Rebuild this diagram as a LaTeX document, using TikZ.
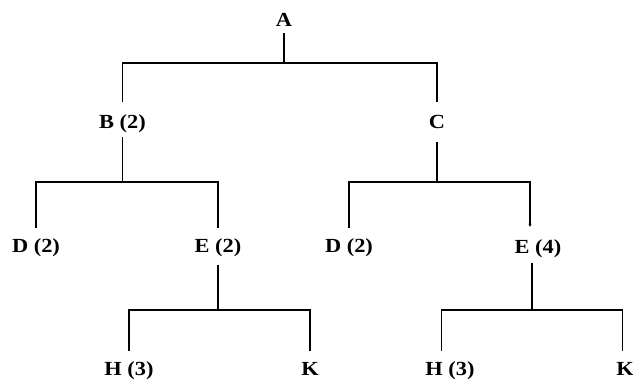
\documentclass[tikz,border=0pt]{standalone}
\usepackage{fontspec}
\setmainfont{Liberation Serif}[FakeStretch=1.12]
\usetikzlibrary{arrows.meta}
\begin{document}
\begin{tikzpicture}[x=1pt,y=-1pt,
  label/.style={anchor=base,inner sep=0pt,text height=13pt,text depth=4pt,
    font=\fontsize{20}{22}\selectfont\bfseries},
  link/.style={draw=black,line width=1.3pt}]
\useasboundingbox[fill=white] (0,0) rectangle (633,380);

% bar levels
\coordinate (lvl1) at (0,63);
\coordinate (lvl2) at (0,182);
\coordinate (lvl3) at (0,310);

% labels
\node[label] (A)  at (284,27)  {A};
\node[label] (B)  at (122.5,128) {B (2)};
\node[label] (C)  at (437,128) {C};
\node[label] (D1) at (36,252)  {D (2)};
\node[label] (E1) at (218,252) {E (2)};
\node[label] (D2) at (349,252) {D (2)};
\node[label] (E2) at (538,253) {E (4)};
\node[label] (H1) at (129,375.5) {H (3)};
\node[label] (K1) at (310,375.5) {K};
\node[label] (H2) at (450,375.5) {H (3)};
\node[label] (K2) at (625,375.5) {K};

% A -> B, C
\draw[link] ([yshift=-2pt]A.south) -- (A.south |- lvl1);
\draw[link] (A.south |- lvl1) -| ([yshift=13pt]B.north);
\draw[link] (A.south |- lvl1) -| ([yshift=13pt]C.north);

% B -> D, E
\draw[link] ([yshift=-5pt]B.south) -- (B.south |- lvl2);
\draw[link] (B.south |- lvl2) -| ([yshift=11pt]D1.north);
\draw[link] (B.south |- lvl2) -| ([yshift=11pt]E1.north);

% C -> D, E
\draw[link] ([yshift=-10pt]C.south) -- (C.south |- lvl2);
\draw[link] (C.south |- lvl2) -| ([yshift=11pt]D2.north);
\draw[link,-{Stealth[length=3pt,width=3pt]}] (C.south |- lvl2) -| ([xshift=-8pt,yshift=13pt]E2.north);

% E (2) -> H, K
\draw[link] ([yshift=-9pt]E1.south) -- (E1.south |- lvl3);
\draw[link] (E1.south |- lvl3) -| ([yshift=11pt]H1.north);
\draw[link] (E1.south |- lvl3) -| ([yshift=11pt]K1.north);

% E (4) -> H, K
\draw[link] ([xshift=-6pt,yshift=-6pt]E2.south) -- ([xshift=-6pt]E2.south |- lvl3);
\draw[link] ([xshift=-6pt]E2.south |- lvl3) -| ([xshift=-8.5pt,yshift=11pt]H2.north);
\draw[link] ([xshift=-6pt]E2.south |- lvl3) -| ([xshift=-2.5pt,yshift=11pt]K2.north);
\end{tikzpicture}
\end{document}
